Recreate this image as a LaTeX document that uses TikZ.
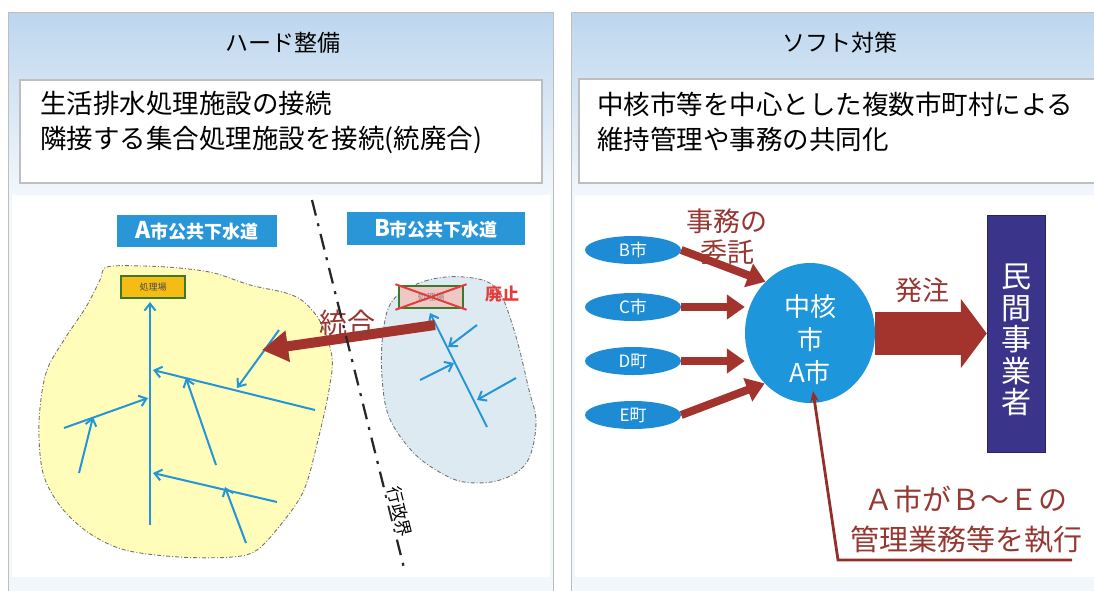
\documentclass[tikz,border=0pt]{standalone}
\usepackage{fontspec}
\setmainfont{Noto Sans CJK JP}
\usetikzlibrary{shapes.geometric,arrows.meta}

\definecolor{panelblue}{RGB}{189,214,238}
\definecolor{panelpale}{RGB}{242,247,252}
\definecolor{panelline}{RGB}{190,190,190}
\definecolor{pipeblue}{RGB}{35,150,215}
\definecolor{labelblue}{RGB}{40,150,215}
\definecolor{areayellow}{RGB}{255,253,185}
\definecolor{areagray}{RGB}{221,234,242}
\definecolor{arrowred}{RGB}{163,52,45}
\definecolor{textred}{RGB}{150,55,50}
\definecolor{cityblue}{RGB}{30,140,212}
\definecolor{coreblue}{RGB}{30,150,220}
\definecolor{firmviolet}{RGB}{58,52,138}
\definecolor{plantorange}{RGB}{245,188,20}
\definecolor{plantgreen}{RGB}{60,120,45}
\definecolor{plantpink}{RGB}{238,200,196}
\definecolor{crossred}{RGB}{228,60,60}

\newcommand{\fsz}[2]{\fontsize{#1}{#2}\selectfont}

\tikzset{
  headtext/.style={font=\fsz{23}{28}},
  boxtext/.style={font=\fsz{26.5}{35}, align=left, inner sep=0pt},
  sewerlabel/.style={fill=labelblue, text=white, font=\fsz{18}{20}\bfseries, inner sep=0pt},
  plant/.style={draw=plantgreen, line width=1.5pt, minimum width=64pt, minimum height=22pt, font=\fsz{9}{10}, inner sep=0pt},
  pipe/.style={pipeblue, line width=2pt, -{Straight Barb[length=7pt,width=11pt]}},
  area/.style={draw=black!55, line width=0.9pt, dash pattern=on 4pt off 2pt on 1pt off 2pt},
  city/.style={ellipse, fill=cityblue, text=white, minimum width=96pt, minimum height=28pt, inner sep=0pt, font=\fsz{17}{18}},
  order/.style={arrowred, line width=8pt, -{Triangle[length=18pt,width=24pt]}},
  rednote/.style={text=textred, align=center, inner sep=0pt},
  whitetext/.style={text=white, align=center, inner sep=0pt}
}

\begin{document}
\begin{tikzpicture}[x=1pt,y=-1pt]
\clip (0,0) rectangle (1094,590);
\fill[white] (0,0) rectangle (1094,590);

% panels
\foreach \px/\qx in {8/553,571/1120}{
  \fill[panelpale] (\px,12) rectangle (\qx,600);
  \shade[top color=panelblue,bottom color=panelpale] (\px,12) rectangle (\qx,195);
  \draw[panelline,line width=1pt] (\px,600) -- (\px,12) -- (\qx,12) -- (\qx,600);
}
\draw[panelline,line width=1.2pt,fill=white] (20,80) rectangle (542,183);
\draw[panelline,line width=1.2pt,fill=white] (579,79) rectangle (1120,183);
\node[headtext] (hardtitle) at (283,43) {ハード整備};
\node[headtext] (softtitle) at (840,43) {ソフト対策};
\node[boxtext,anchor=west] (hardtext) at (40,122) {生活排水処理施設の接続\\隣接する集合処理施設を接続(統廃合)};
\node[boxtext,anchor=west] (softtext) at (597,122) {中核市等を中心とした複数市町村による\\維持管理や事務の共同化};
\fill[white] (12,195) rectangle (550,577);
\fill[white] (575,195) rectangle (1120,577);

% hard side
\draw[area,fill=areayellow] plot[smooth cycle,tension=0.55] coordinates {(107,267) (143,266) (179,268) (214,273) (250,285) (286,293) (304,302) (321,323) (332,357) (329,390) (318,440) (304,490) (282,523) (257,550) (232,557) (179,557) (125,550) (89,533) (61,507) (43,473) (39,423) (46,373) (64,340) (86,307) (100,280)};
\draw[area,fill=areagray] plot[smooth cycle,tension=0.6] coordinates {(393,300) (425,281) (464,277) (496,288) (514,330) (529,390) (536,423) (527,462) (500,480) (464,482) (436,470) (411,450) (389,417) (382,377) (383,333)};
\node[sewerlabel,minimum width=160pt,minimum height=32pt] (alabel) at (197,231) {{\fsz{23}{24}A}市公共下水道};
\node[sewerlabel,minimum width=178pt,minimum height=33pt] (blabel) at (436,228.5) {{\fsz{23}{24}B}市公共下水道};
\node[plant,fill=plantorange,text=black!70] (aplant) at (153,287) {処理場};
\node[plant,fill=plantpink,text=black!45] (bplant) at (431,297) {処理場};
\draw[crossred,line width=2pt,shorten <=-3pt,shorten >=-3pt] (bplant.north west) -- (bplant.south east);
\draw[crossred,line width=2pt,shorten <=-3pt,shorten >=-3pt] (bplant.south west) -- (bplant.north east);
\node[text=crossred,font=\fsz{17}{18}\bfseries] (abolish) at (502,294) {廃止};
\foreach \sx/\sy/\ex/\ey in {150/525/150/302, 315/410/153/370, 279/330/237/388, 216/465/186/378,
  64/428/148/398, 79/473/93/417, 277/502/153/473, 246/543/225/487,
  487/427/430/313, 477/325/448/347, 420/380/454/363, 516/378/477/400}
  \draw[pipe] (\sx,\sy) -- (\ex,\ey);
\coordinate (bsewer) at (435,325);
\coordinate (asewer) at (262,350);
\draw[arrowred,line width=10pt,-{Triangle[length=26pt,width=30pt]}] (bsewer) -- (asewer);
\node[rednote,font=\fsz{28}{30}] (mergetext) at (347,323) {統合};
\coordinate (bordertop) at (312,200);
\coordinate (borderbot) at (405,572);
\draw[black!85,line width=2.2pt,dash pattern=on 16pt off 8pt on 3pt off 8pt] (bordertop) -- (borderbot);
\node[fill=white,inner sep=1pt,rotate=-76,font=\fsz{17}{18}] (bordertext) at (400,512) {行政界};

% soft side
\node[city] (bcity) at (633,250) {B市};
\node[city] (ccity) at (633,307) {C市};
\node[city] (dcity) at (633,361) {D町};
\node[city] (ecity) at (633,415) {E町};
\node[ellipse,fill=coreblue,minimum width=130pt,minimum height=140pt,inner sep=0pt] (core) at (810,333) {};
\node[whitetext,font=\fsz{26}{33}] (coretext) at (810,340) {中核\\市\\A市};
\node[fill=firmviolet,draw=firmviolet!70!black,minimum width=58pt,minimum height=237pt,inner sep=0pt] (firm) at (1016,333.5) {};
\node[whitetext,font=\fsz{30}{31.5}] (firmtext) at (1016,340) {民\\間\\事\\業\\者};
\node[rednote,font=\fsz{27}{31}] (commission) at (727,237) {事務の\\委託};
\node[rednote,font=\fsz{27}{30}] (ordertext) at (922,290) {発注};
\draw[order] (bcity.east) -- (core.131);
\draw[order] (ccity.east) -- (ccity.east -| core.west);
\draw[order] (dcity.east) -- (dcity.east -| core.west);
\draw[order] (ecity.east) -- (core.228);
\draw[arrowred,line width=43pt,-{Triangle[length=26pt,width=68pt]}] (core.east |- firm.west) -- (firm.west);
\coordinate (exec) at (813,391);
\coordinate (bend) at (838,560);
\coordinate (lineend) at (1072,560);
\draw[arrowred!90!black,line width=2.8pt,-{Stealth[length=11pt,width=9pt]}] (lineend) -- (bend) -- (exec);
\node[rednote,font=\fsz{29}{40}] (execnote) at (966,520) {Ａ市がＢ～Ｅの\\管理業務等を執行};
\end{tikzpicture}
\end{document}
